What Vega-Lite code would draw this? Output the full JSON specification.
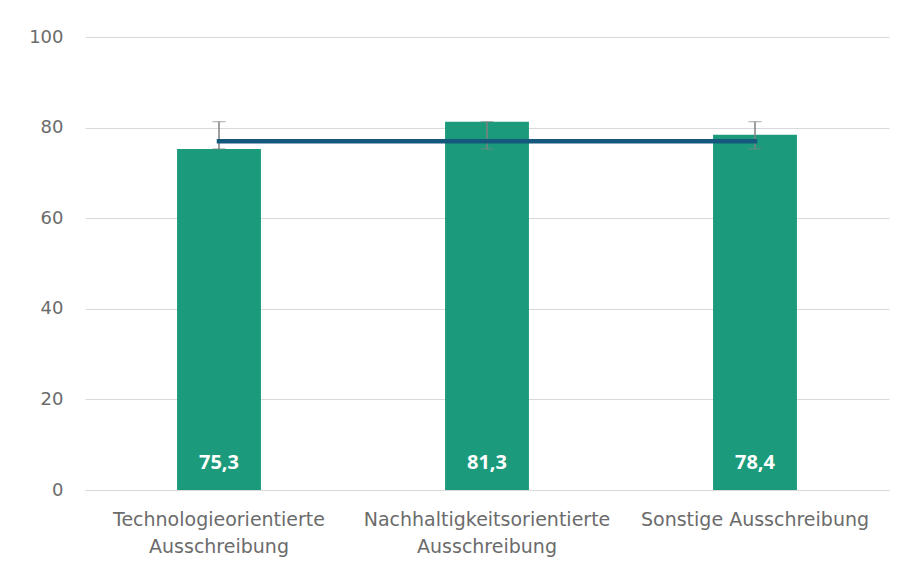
{
  "$schema": "https://vega.github.io/schema/vega-lite/v6.json",
  "width": 804,
  "height": 453,
  "autosize": {"type": "none"},
  "padding": {"left": 85, "top": 37, "right": 17, "bottom": 85},
  "background": "white",
  "config": {
    "view": {"stroke": null},
    "font": "DejaVu Sans"
  },
  "data": {
    "values": [
      {"cat": "Technologieorientierte|Ausschreibung", "value": 75.3, "label": "75,3", "lo": 75.3, "hi": 81.3, "mean": 77.0},
      {"cat": "Nachhaltigkeitsorientierte|Ausschreibung", "value": 81.3, "label": "81,3", "lo": 75.3, "hi": 81.3, "mean": 77.0},
      {"cat": "Sonstige Ausschreibung", "value": 78.4, "label": "78,4", "lo": 75.3, "hi": 81.3, "mean": 77.0}
    ]
  },
  "encoding": {
    "x": {
      "field": "cat",
      "type": "nominal",
      "sort": null,
      "scale": {"paddingInner": 0.687, "paddingOuter": 0.3435},
      "axis": {
        "title": null,
        "labelAngle": 0,
        "labelExpr": "split(datum.label, '|')",
        "labelFontSize": 19,
        "labelColor": "#6b6b6b",
        "labelLineHeight": 27,
        "labelPadding": 20,
        "labelLimit": 400,
        "ticks": false,
        "domainColor": "#d9d9d9",
        "domainWidth": 1
      }
    }
  },
  "layer": [
    {
      "mark": {"type": "bar", "color": "#1b9b7b"},
      "encoding": {
        "y": {
          "field": "value",
          "type": "quantitative",
          "scale": {"domain": [0, 100]},
          "axis": {
            "title": null,
            "values": [0, 20, 40, 60, 80, 100],
            "labelFontSize": 18,
            "labelColor": "#6b6b6b",
            "labelPadding": 22,
            "ticks": false,
            "domain": false,
            "gridColor": "#d9d9d9",
            "gridWidth": 1
          }
        }
      }
    },
    {
      "mark": {"type": "errorbar", "ticks": {"size": 13, "color": "#808080", "strokeWidth": 1.5}, "rule": {"color": "#808080", "strokeWidth": 1.5}},
      "encoding": {
        "y": {"field": "lo", "type": "quantitative"},
        "y2": {"field": "hi"}
      }
    },
    {
      "mark": {"type": "line", "color": "#14587c", "strokeWidth": 4.5, "strokeCap": "square"},
      "encoding": {
        "y": {"field": "mean", "type": "quantitative"}
      }
    },
    {
      "mark": {"type": "text", "color": "white", "font": "Open Sans", "fontWeight": "bold", "fontSize": 20, "baseline": "middle", "dy": -27},
      "encoding": {
        "y": {"datum": 0},
        "text": {"field": "label"}
      }
    }
  ]
}
